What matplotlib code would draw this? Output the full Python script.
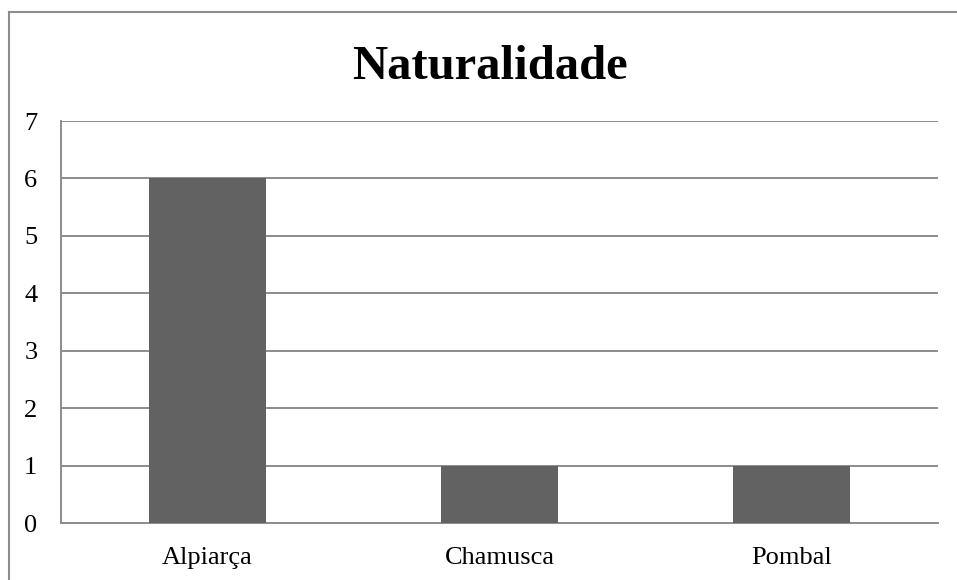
import matplotlib
matplotlib.use('Agg')
import matplotlib.pyplot as plt
from matplotlib.lines import Line2D

# data
categories = ['Alpiarça', 'Chamusca', 'Pombal']
values = [6, 1, 1]
yticks = [0, 1, 2, 3, 4, 5, 6, 7]

plt.rcParams['font.family'] = ['Liberation Serif', 'DejaVu Serif']

fig = plt.figure(figsize=(9.57, 5.8), dpi=100)
ax = fig.add_axes([61/957, 1-523/580, (938-61)/957, (523-121)/580])

ax.bar(range(len(categories)), values, width=0.4, color='#626262', zorder=3)
ax.set_xlim(-0.5, len(categories)-0.5)
ax.set_ylim(0, 7)
ax.set_yticks(yticks)
ax.set_xticks(range(len(categories)))
ax.set_xticklabels(categories)
ax.tick_params(axis='both', length=0, labelsize=19, colors='black')
ax.tick_params(axis='y', pad=17)
ax.tick_params(axis='x', pad=17)
ax.yaxis.grid(True, color='#8c8c8c', linewidth=1.4, zorder=0)

for s in ['top', 'right']:
    ax.spines[s].set_visible(False)
for s in ['left', 'bottom']:
    ax.spines[s].set_color('#8c8c8c')
    ax.spines[s].set_linewidth(1.4)

fig.text(490/957, 1-67/580, 'Naturalidade', ha='center', va='center',
         fontsize=35, fontweight='bold')

# outer chart border (left and top only visible)
fig.add_artist(Line2D([8.5/957, 8.5/957], [0, 1-12/580], color='#8c8c8c', lw=1.5))
fig.add_artist(Line2D([8.5/957, 1], [1-12/580, 1-12/580], color='#8c8c8c', lw=1.5))

fig.savefig('out.png', dpi=100)
